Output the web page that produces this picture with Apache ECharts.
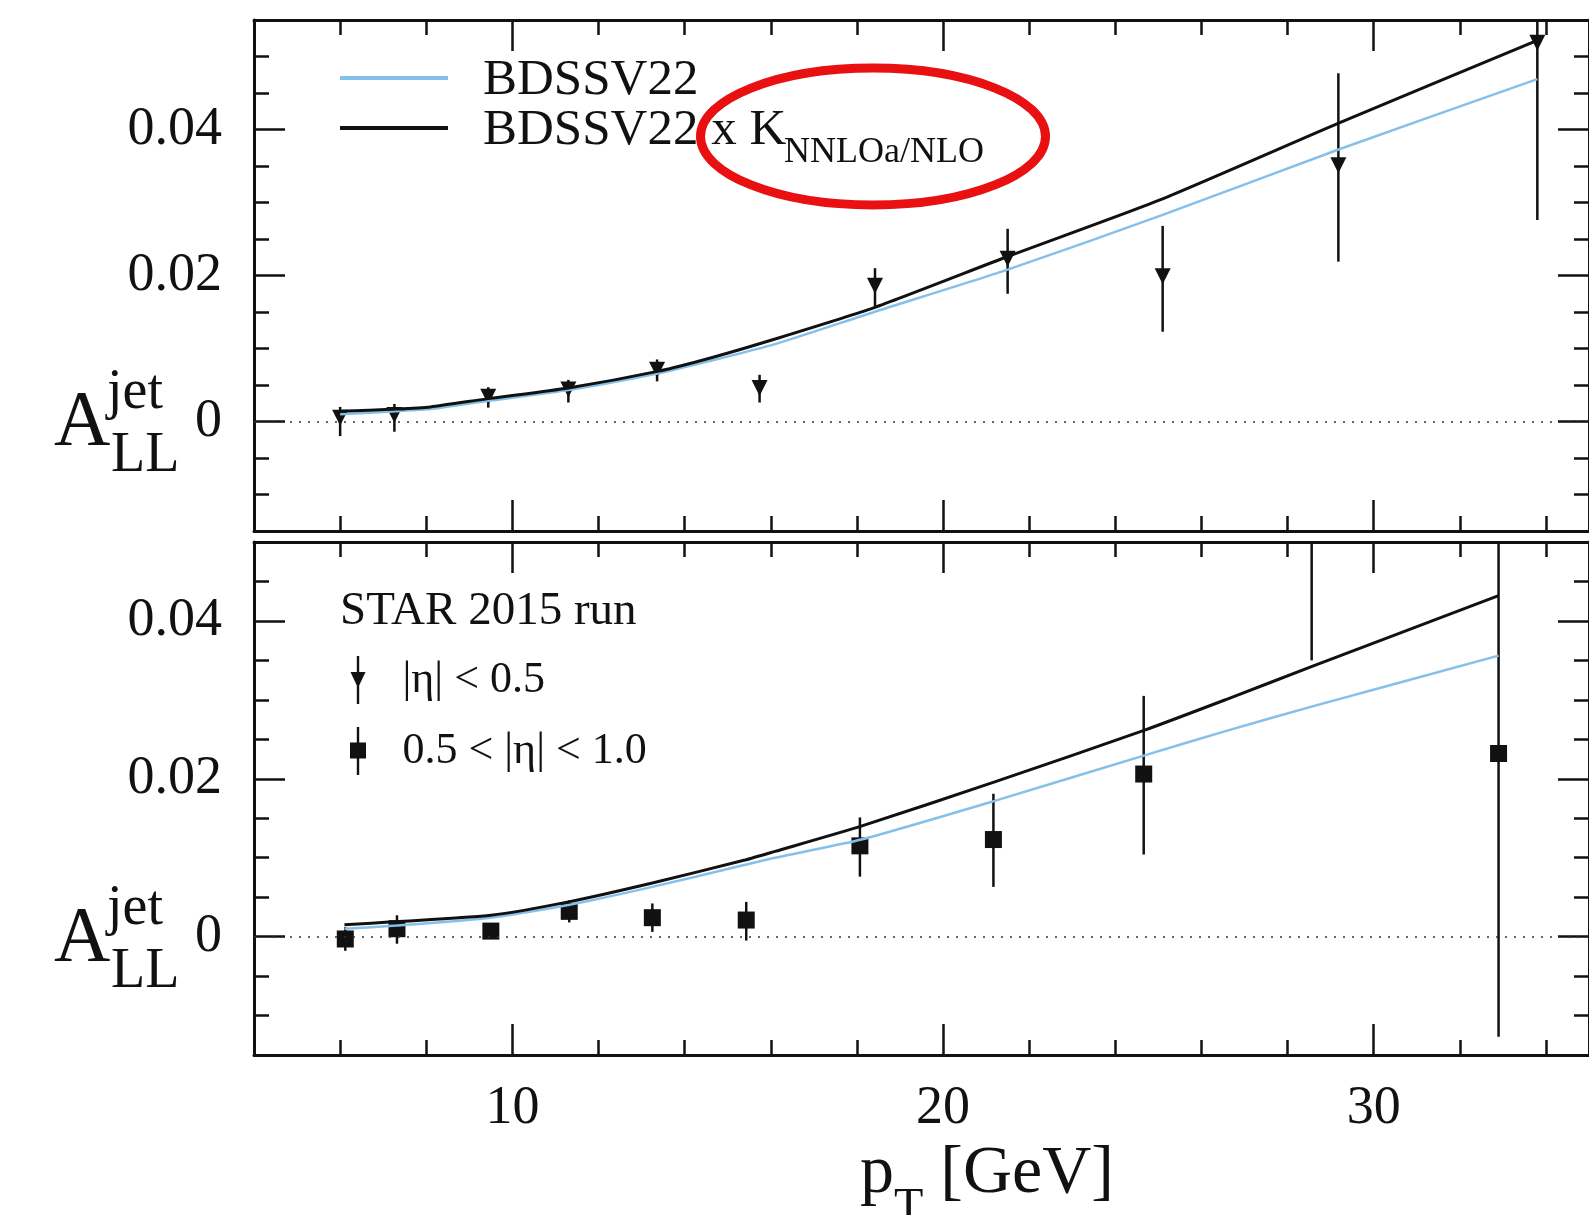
<!DOCTYPE html>
<html>
<head>
<meta charset="utf-8">
<title>A_LL jet vs pT</title>
<script src="https://cdn.jsdelivr.net/npm/echarts@6.0.0/dist/echarts.min.js"></script>
<style>
html, body { margin: 0; padding: 0; background: #fff; }
#chart { width: 1589px; height: 1215px; }
</style>
</head>
<body>
<div id="chart"></div>
<script>
// ---- axis ticks ----
var xRange = [4, 35];
var xMajor = [10, 20, 30];
var xMinor = [6, 8, 12, 14, 16, 18, 22, 24, 26, 28, 32, 34];
var yMajor = [0, 0.02, 0.04];
var yMinor = [-0.01, -0.005, 0.005, 0.01, 0.015, 0.025, 0.03, 0.035, 0.045, 0.05];
var yRangeTop = [-0.015, 0.055];
var yRangeBot = [-0.015, 0.05];

// ---- top panel: STAR |eta| < 0.5 ----
var topPtX  = [6.0, 7.26, 9.44, 11.3, 13.36, 15.74, 18.42, 21.5, 25.1, 29.18, 33.8];
var topPtY  = [0.0005, 0.0009, 0.0034, 0.0044, 0.0071, 0.0046, 0.0186, 0.0223, 0.0199, 0.0351, 0.0519];
var topErrLo = [-0.002, -0.0014, 0.0019, 0.0026, 0.0055, 0.0026, 0.0158, 0.0175, 0.0123, 0.0219, 0.0276];
var topErrHi = [0.002, 0.0024, 0.0047, 0.0057, 0.0085, 0.0064, 0.021, 0.0264, 0.0268, 0.0477, 0.0762];

var topCurveX = [6.0, 7.3, 8.1, 9.4, 11.3, 13.4, 14.6, 16.1, 18.4, 21.5, 25.1, 29.2, 33.8];
var topBdssv  = [0.0010, 0.0014, 0.0017, 0.0028, 0.0043, 0.0066, 0.0083, 0.0106, 0.0150, 0.0208, 0.0283, 0.0373, 0.0469];
var topBdssvK = [0.0014, 0.0017, 0.0020, 0.0031, 0.0046, 0.0069, 0.0087, 0.0113, 0.0156, 0.0226, 0.0305, 0.0409, 0.0522];

// ---- bottom panel: STAR 0.5 < |eta| < 1.0 ----
var botPtX  = [6.12, 7.32, 9.5, 11.32, 13.25, 15.43, 18.07, 21.17, 24.66, 28.56, 32.9];
var botPtY  = [-0.0003, 0.001, 0.0007, 0.0032, 0.0024, 0.0021, 0.0115, 0.0123, 0.0206, 0.056, 0.0232];
var botErrLo = [-0.0018, -0.0009, -0.0003, 0.0018, 0.0006, -0.0005, 0.0076, 0.0063, 0.0104, 0.035, -0.0127];
var botErrHi = [0.0012, 0.0027, 0.0017, 0.0046, 0.0042, 0.0044, 0.0151, 0.0181, 0.0305, 0.077, 0.0591];

var botCurveX = [6.1, 7.3, 9.5, 11.3, 13.25, 15.4, 16.1, 18.1, 21.2, 24.7, 26.6, 28.6, 32.9];
var botBdssv  = [0.0010, 0.0014, 0.0024, 0.0040, 0.0063, 0.0091, 0.0100, 0.0123, 0.0172, 0.0230, 0.0261, 0.0292, 0.0356];
var botBdssvK = [0.0015, 0.0019, 0.0027, 0.0044, 0.0068, 0.0097, 0.0108, 0.0140, 0.0196, 0.0262, 0.0301, 0.0343, 0.0432];

var INK = '#111';
var BLUE = '#84c0ea';
var SERIF = '"Liberation Serif", "DejaVu Serif", serif';

function pairs(xs, ys) {
    return xs.map(function (x, i) { return [x, ys[i]]; });
}
function bars(xs, lo, hi) {
    return xs.map(function (x, i) { return [x, lo[i], hi[i]]; });
}

// frame = 4 axes (major + minor ticks on each side), ticks pointing inside
function xAxes(grid, withLabels) {
    function ax(pos, vals, len, line, labels) {
        return {
            type: 'value', gridIndex: grid, position: pos,
            min: xRange[0], max: xRange[1],
            splitLine: { show: false },
            axisLine: { show: line, onZero: false, lineStyle: { color: INK, width: 3 } },
            axisTick: { show: true, inside: true, length: len, customValues: vals,
                        lineStyle: { color: INK, width: 2.5 } },
            axisLabel: labels ? { show: true, customValues: xMajor, margin: 27,
                                  fontSize: 54, fontFamily: SERIF, color: INK }
                              : { show: false }
        };
    }
    return [ax('bottom', xMajor, 31, true, withLabels), ax('bottom', xMinor, 15, false, false),
            ax('top', xMajor, 31, true, false), ax('top', xMinor, 15, false, false)];
}
function yAxes(grid, range) {
    function ax(pos, vals, len, line, labels) {
        return {
            type: 'value', gridIndex: grid, position: pos,
            min: range[0], max: range[1],
            splitLine: { show: false },
            axisLine: { show: line, onZero: false, lineStyle: { color: INK, width: 3 } },
            axisTick: { show: true, inside: true, length: len, customValues: vals,
                        lineStyle: { color: INK, width: 2.5 } },
            axisLabel: labels ? { show: true, customValues: yMajor, margin: 32,
                                  fontSize: 54, fontFamily: SERIF, color: INK,
                                  formatter: function (v) { return v === 0 ? '0' : v.toFixed(2); } }
                              : { show: false }
        };
    }
    return [ax('left', yMajor, 31, true, true), ax('left', yMinor, 15, false, false),
            ax('right', yMajor, 31, true, false), ax('right', yMinor, 15, false, false)];
}

function errorSeries(xIdx, data, range) {
    return {
        type: 'custom', xAxisIndex: xIdx, yAxisIndex: xIdx, clip: true, silent: true,
        data: data,
        encode: { x: 0, y: [1, 2] },
        renderItem: function (params, api) {
            var lo = Math.max(api.value(1), range[0]);
            var hi = Math.min(api.value(2), range[1]);
            var p1 = api.coord([api.value(0), lo]);
            var p2 = api.coord([api.value(0), hi]);
            return { type: 'line', shape: { x1: p1[0], y1: p1[1], x2: p2[0], y2: p2[1] },
                     style: { stroke: INK, lineWidth: 2.5 } };
        }
    };
}
function curve(name, xIdx, data, color, width, zeroLine) {
    var s = {
        type: 'line', name: name, xAxisIndex: xIdx, yAxisIndex: xIdx,
        data: data, symbol: 'none', silent: true, smooth: 0.2,
        itemStyle: { color: color },
        lineStyle: { color: color, width: width }
    };
    if (zeroLine) {
        s.markLine = { silent: true, symbol: ['none', 'none'], label: { show: false },
                       lineStyle: { color: '#333', width: 1.5, type: [2, 7] },
                       data: [{ yAxis: 0 }] };
    }
    return s;
}

// legend rows for the two theory curves (same layout, one row each)
function curveLegend(name, top) {
    return {
        left: 340, top: top, padding: 0, selectedMode: false,
        itemWidth: 108, itemHeight: 4,
        data: [{ name: name, icon: 'rect' }],
        formatter: function (n) { return '{sp| }{a|' + n + '}'; },
        textStyle: { rich: { sp: { width: 30 },
                             a: { fontSize: 51, lineHeight: 56, padding: [5, 0, 0, 0], fontFamily: SERIF, color: INK } } }
    };
}

var triIcon = 'path://M1,16L16,16L8.5,32Z M7.3,0L9.7,0L9.7,48L7.3,48Z';
var sqIcon  = 'path://M0.5,15.5L16.5,15.5L16.5,31.5L0.5,31.5Z M7.3,0L9.7,0L9.7,48L7.3,48Z';

var option = {
    animation: false,
    backgroundColor: '#fff',
    grid: [
        { left: 254, top: 20, width: 1344, height: 511 },
        { left: 254, top: 542, width: 1344, height: 513 }
    ],
    xAxis: xAxes(0, false).concat(xAxes(1, true)),
    yAxis: yAxes(0, yRangeTop).concat(yAxes(1, yRangeBot)),
    title: [
        { text: 'STAR 2015 run', left: 340, top: 588, padding: 0,
          textStyle: { fontSize: 47, lineHeight: 47, fontFamily: SERIF, fontWeight: 'normal', color: INK } },
        // p_T [GeV], subscript dropped by a tall line box
        { text: '{p|p}{t|T}{g| [GeV]}', left: 860, top: 1116, padding: 0,
          textStyle: { fontWeight: 'normal', rich: {
              p: { fontSize: 68, lineHeight: 116, fontFamily: SERIF, fontWeight: 'normal', color: INK },
              t: { fontSize: 48, verticalAlign: 'bottom', fontFamily: SERIF, fontWeight: 'normal', color: INK },
              g: { fontSize: 68, lineHeight: 116, fontFamily: SERIF, fontWeight: 'normal', color: INK }
          } } }
    ],
    legend: [
        curveLegend('BDSSV22', 50),
        curveLegend('BDSSV22 x K', 100),
        { left: 350, top: 656, padding: 0, orient: 'vertical', selectedMode: false,
          itemWidth: 17, itemHeight: 48, itemGap: 23,
          data: [{ name: '|η| < 0.5', icon: triIcon }, { name: '0.5 < |η| < 1.0', icon: sqIcon }],
          formatter: function (n) { return '{sp| }{a|' + n + '}'; },
          textStyle: { rich: { sp: { width: 31 },
                               a: { fontSize: 44, lineHeight: 48, fontFamily: SERIF, color: INK } } } }
    ],
    graphic: [
        // subscript of K in the legend
        { type: 'text', style: { text: 'NNLOa/NLO', x: 784, y: 153, font: '36px ' + SERIF, verticalAlign: 'middle', fill: INK } },
        // y axis names A_LL^jet
        { type: 'text', style: { text: 'A', x: 54, y: 424, font: '78px ' + SERIF, verticalAlign: 'middle', fill: INK } },
        { type: 'text', style: { text: 'jet', x: 107, y: 393, font: '56px ' + SERIF, verticalAlign: 'middle', fill: INK } },
        { type: 'text', style: { text: 'LL', x: 111, y: 456, font: '56px ' + SERIF, verticalAlign: 'middle', fill: INK } },
        { type: 'text', style: { text: 'A', x: 54, y: 940, font: '78px ' + SERIF, verticalAlign: 'middle', fill: INK } },
        { type: 'text', style: { text: 'jet', x: 107, y: 909, font: '56px ' + SERIF, verticalAlign: 'middle', fill: INK } },
        { type: 'text', style: { text: 'LL', x: 111, y: 972, font: '56px ' + SERIF, verticalAlign: 'middle', fill: INK } },
        // red highlight around the K factor
        { type: 'ellipse', z: 100, shape: { cx: 873, cy: 136.5, rx: 172.5, ry: 68.5 },
          style: { fill: 'none', stroke: '#e81010', lineWidth: 9 } }
    ],
    series: [
        curve('BDSSV22', 0, pairs(topCurveX, topBdssv), BLUE, 2.5, true),
        curve('BDSSV22 x K', 0, pairs(topCurveX, topBdssvK), INK, 3, false),
        errorSeries(0, bars(topPtX, topErrLo, topErrHi), yRangeTop),
        { type: 'scatter', name: '|η| < 0.5', xAxisIndex: 0, yAxisIndex: 0, silent: true,
          symbol: 'triangle', symbolRotate: 180, symbolSize: 16,
          itemStyle: { color: INK, opacity: 1 }, data: pairs(topPtX, topPtY) },

        curve('BDSSV22', 4, pairs(botCurveX, botBdssv), BLUE, 2.5, true),
        curve('BDSSV22 x K', 4, pairs(botCurveX, botBdssvK), INK, 3, false),
        errorSeries(4, bars(botPtX, botErrLo, botErrHi), yRangeBot),
        { type: 'scatter', name: '0.5 < |η| < 1.0', xAxisIndex: 4, yAxisIndex: 4, silent: true,
          symbol: 'rect', symbolSize: 17,
          itemStyle: { color: INK, opacity: 1 }, data: pairs(botPtX, botPtY) }
    ]
};

var chart = echarts.init(document.getElementById('chart'));
chart.setOption(option);
</script>
</body>
</html>
